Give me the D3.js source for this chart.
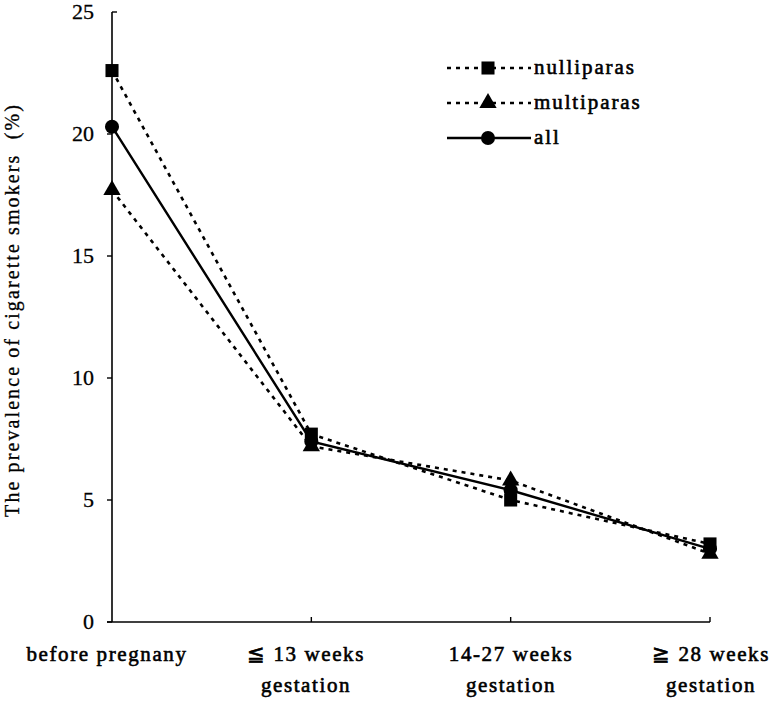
<!DOCTYPE html>
<html>
<head>
<meta charset="utf-8">
<script src="https://cdn.jsdelivr.net/npm/d3@7"></script>
<style>
  body { margin: 0; background: #fff; }
  svg text { font-family: "Liberation Serif", serif; white-space: pre; }
</style>
</head>
<body>
<svg id="chart" width="771" height="704"></svg>
<script>
// stages of pregnancy (x categories)
const stages = ["before", "le13", "14to27", "ge28"];
const stageLabels = [
  ["before pregnany"],
  ["\u2266 13 weeks", "gestation"],
  ["14-27 weeks", "gestation"],
  ["\u2267 28 weeks", "gestation"]
];

// prevalence of smokers (%)
const nulliparas = [22.6, 7.7, 5.0, 3.2];
const multiparas = [17.7, 7.2, 5.8, 2.8];
const all = [20.3, 7.4, 5.4, 3.0];

const yTicks = [0, 5, 10, 15, 20, 25];

const series = [
  { name: "nulliparas", values: nulliparas, dashed: true, symbol: d3.symbolSquare, size: 170 },
  { name: "multiparas", values: multiparas, dashed: true, symbol: d3.symbolTriangle, size: 130 },
  { name: "all", values: all, dashed: false, symbol: d3.symbolCircle, size: 155 }
];

const svg = d3.select("#chart");

const x = d3.scalePoint().domain(stages).range([112, 710]);
const y = d3.scaleLinear().domain([0, 25]).range([622, 12]);

// y axis
const yAxis = svg.append("g").attr("transform", "translate(112,0)");
yAxis.append("line")
  .attr("y1", y(25)).attr("y2", y(0))
  .attr("stroke", "#000").attr("stroke-width", 1.6);
yAxis.selectAll(".ytick")
  .data(yTicks)
  .enter()
  .append("line")
  .attr("x1", (d) => (d === 25 ? 0 : -5))
  .attr("x2", (d) => (d === 25 ? 5 : 0))
  .attr("y1", (d) => y(d))
  .attr("y2", (d) => y(d))
  .attr("stroke", "#000").attr("stroke-width", 1.4);
yAxis.selectAll(".ylabel")
  .data(yTicks)
  .enter()
  .append("text")
  .attr("x", -18)
  .attr("y", (d) => y(d) + 7)
  .attr("text-anchor", "end")
  .attr("font-size", 22)
  .attr("stroke", "#000")
  .attr("stroke-width", 0.3)
  .text((d) => d);

// x axis
svg.append("line")
  .attr("x1", 107).attr("x2", x("ge28"))
  .attr("y1", y(0)).attr("y2", y(0))
  .attr("stroke", "#000").attr("stroke-width", 1.6);
svg.selectAll(".xtick")
  .data(stages.slice(1))
  .enter()
  .append("line")
  .attr("x1", (d) => x(d)).attr("x2", (d) => x(d))
  .attr("y1", y(0)).attr("y2", y(0) - 5)
  .attr("stroke", "#000").attr("stroke-width", 1.4);

const labelX = [107, 306, 511, 711];
stageLabels.forEach((lines, i) => {
  const t = svg.append("text")
    .attr("text-anchor", "middle")
    .attr("font-size", 21)
    .attr("letter-spacing", 1.6)
    .attr("stroke", "#000")
    .attr("stroke-width", 0.6);
  lines.forEach((line, j) => {
    t.append("tspan")
      .attr("x", labelX[i])
      .attr("y", 661 + j * 31)
      .text(line);
  });
});

// y axis title
svg.append("text")
  .attr("transform", "translate(19,310) rotate(-90)")
  .attr("text-anchor", "middle")
  .attr("font-size", 20)
  .attr("letter-spacing", 2.1)
  .attr("stroke", "#000")
  .attr("stroke-width", 0.3)
  .text("The prevalence of cigarette smokers  (%)");

// lines
const line = d3.line()
  .x((d, i) => x(stages[i]))
  .y((d) => y(d));

series.forEach((s) => {
  svg.append("path")
    .datum(s.values)
    .attr("d", line)
    .attr("fill", "none")
    .attr("stroke", "#000")
    .attr("stroke-width", s.dashed ? 2.6 : 2.4)
    .attr("stroke-dasharray", s.dashed ? "4,5" : null);
});

series.forEach((s) => {
  svg.selectAll(null)
    .data(s.values)
    .enter()
    .append("path")
    .attr("transform", (d, i) => `translate(${x(stages[i])},${y(d)})`)
    .attr("d", d3.symbol().type(s.symbol).size(s.size))
    .attr("fill", "#000");
});

// legend
const legend = svg.append("g").attr("transform", "translate(447,68)");
series.forEach((s, i) => {
  const g = legend.append("g").attr("transform", `translate(0,${i * 35})`);
  g.append("line")
    .attr("x1", 0).attr("x2", 84)
    .attr("stroke", "#000")
    .attr("stroke-width", s.dashed ? 2.6 : 2.4)
    .attr("stroke-dasharray", s.dashed ? "4,5" : null);
  g.append("path")
    .attr("transform", "translate(41,0)")
    .attr("d", d3.symbol().type(s.symbol).size(s.size))
    .attr("fill", "#000");
  g.append("text")
    .attr("x", 87)
    .attr("y", 6)
    .attr("font-size", 21)
    .attr("letter-spacing", 1.9)
    .attr("stroke", "#000")
    .attr("stroke-width", 0.6)
    .text(s.name);
});
</script>
</body>
</html>
